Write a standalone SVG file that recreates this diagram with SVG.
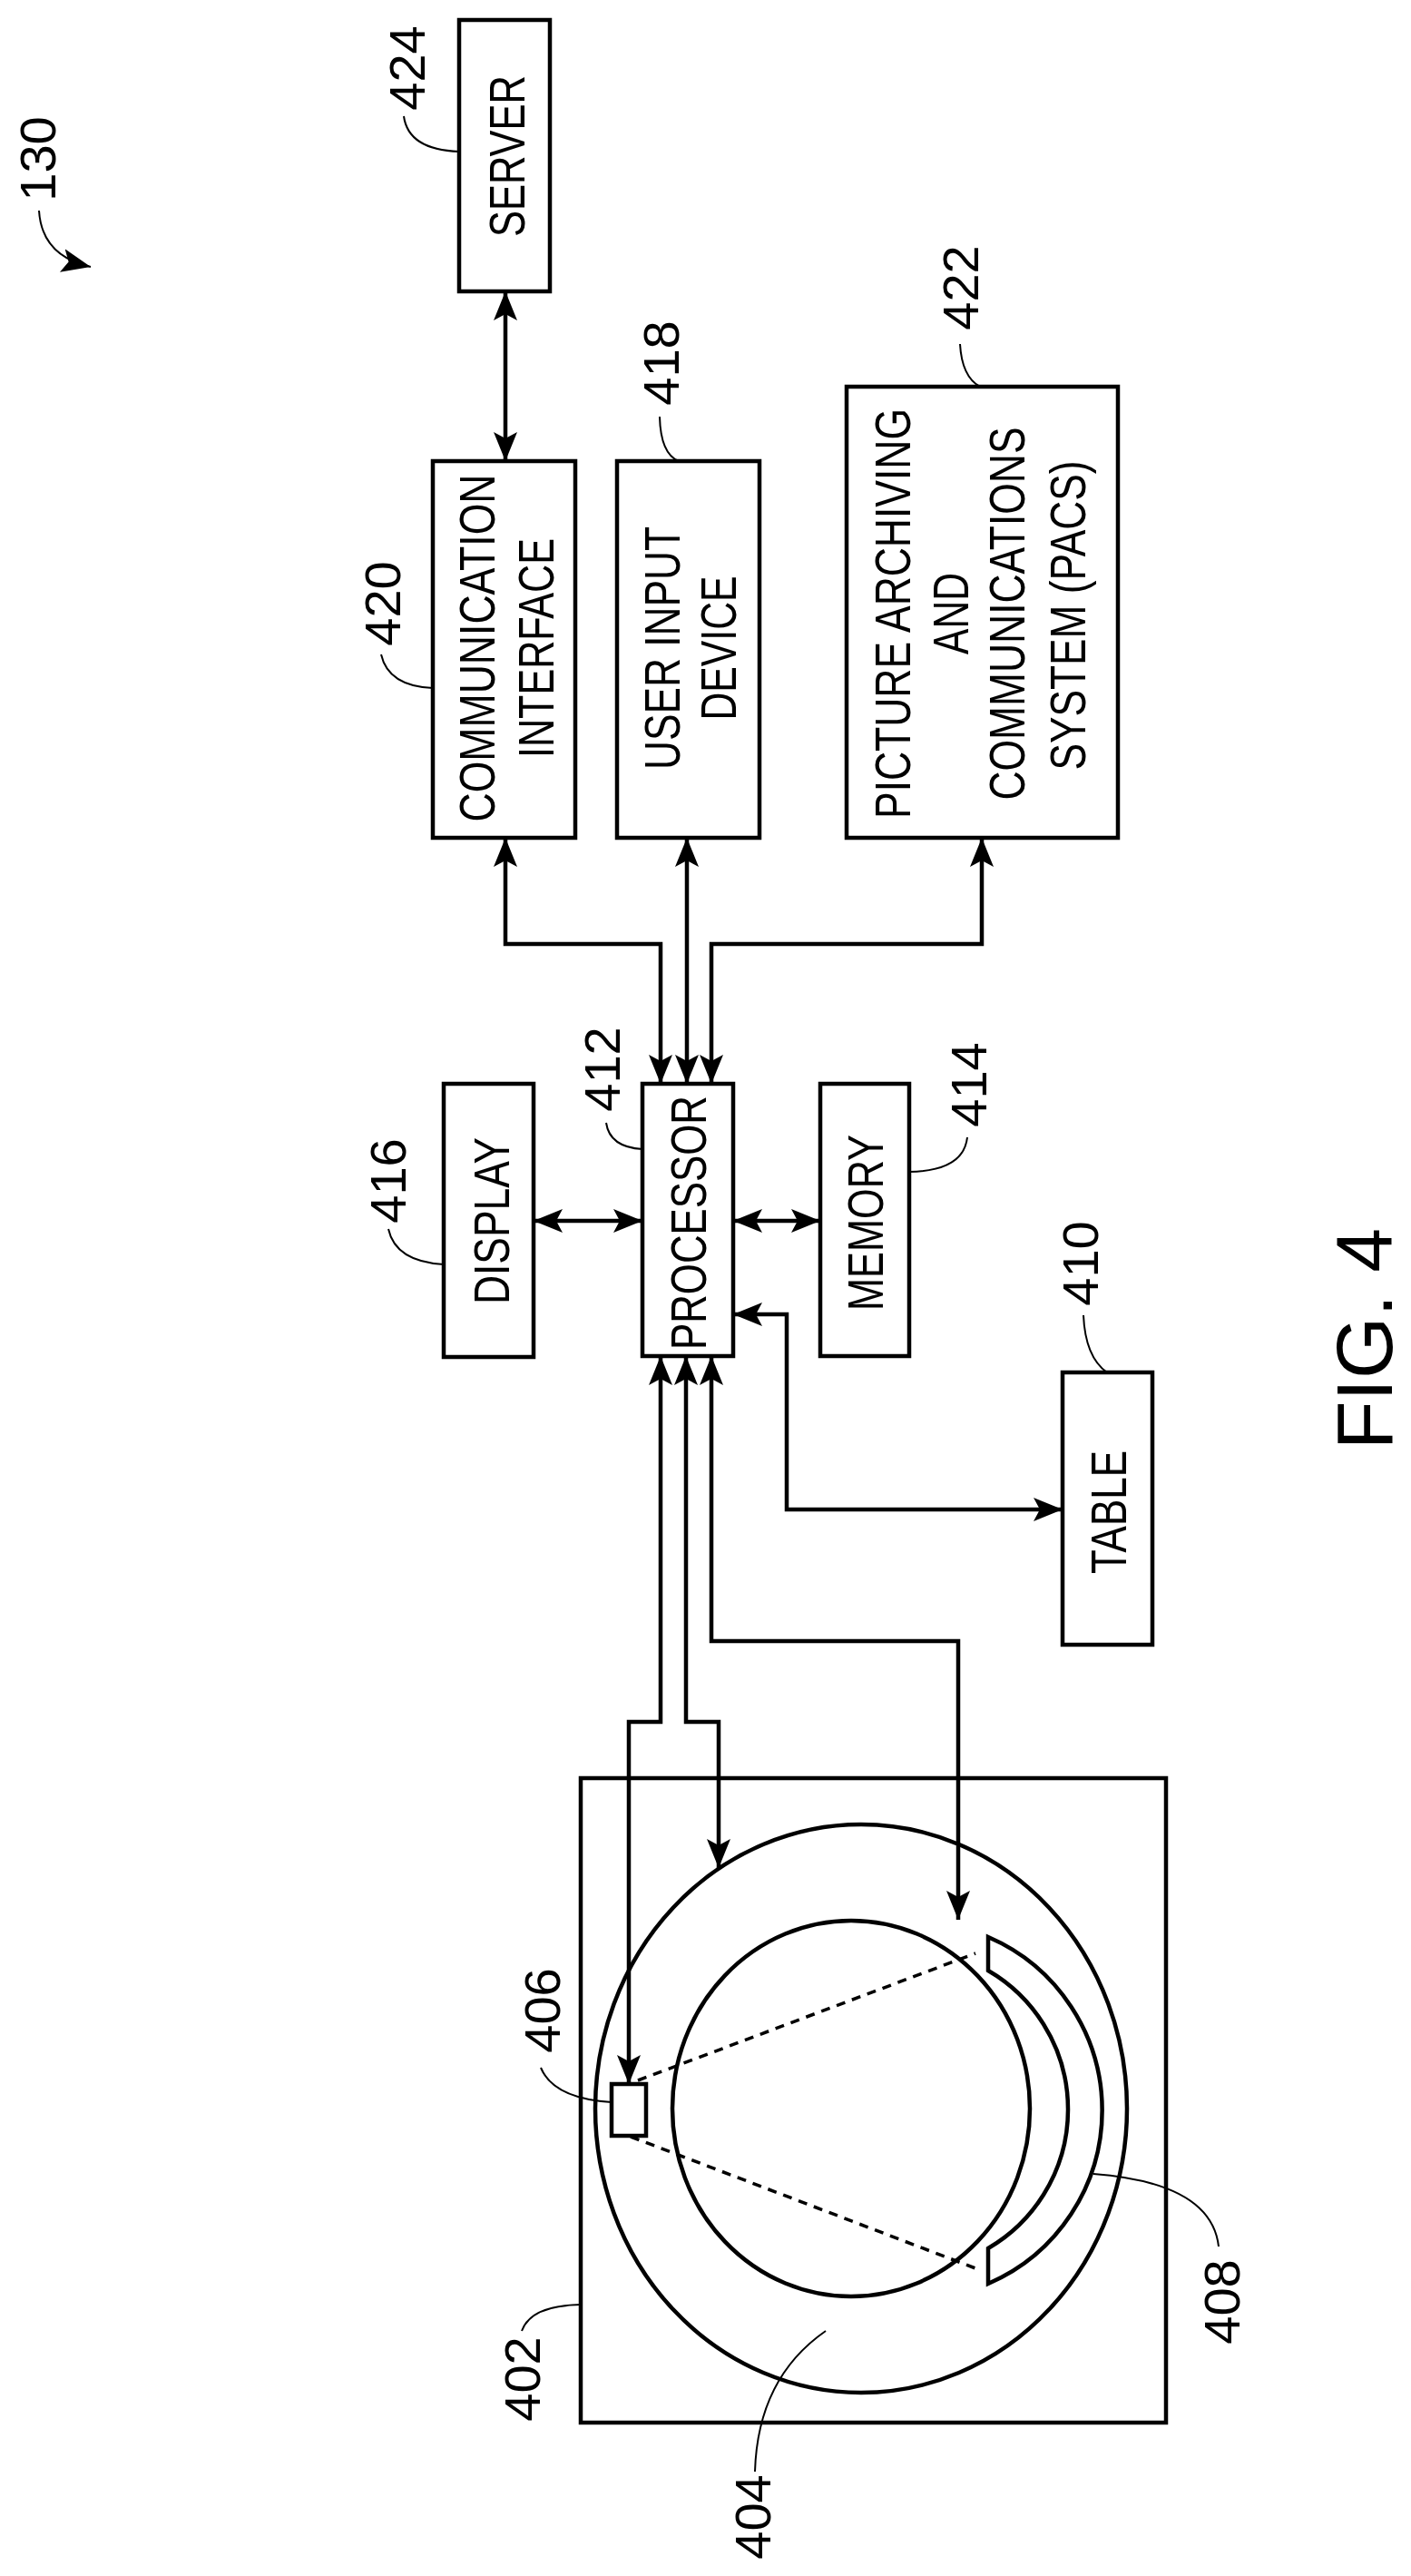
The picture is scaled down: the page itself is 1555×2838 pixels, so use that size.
<svg xmlns="http://www.w3.org/2000/svg" width="1555" height="2838" viewBox="0 0 1555 2838">
<style>
.box{fill:none;stroke:#000;stroke-width:4.5}
.t{font-family:"Liberation Sans",Arial,sans-serif;font-size:56px;fill:#000;text-anchor:middle;dominant-baseline:central}
.n{font-family:"Liberation Sans",Arial,sans-serif;font-size:56px;fill:#000;text-anchor:middle;dominant-baseline:central}
.ld{fill:none;stroke:#000;stroke-width:2}
.c{fill:none;stroke:#000;stroke-width:4.5;marker-start:url(#a);marker-end:url(#a)}
.dash{fill:none;stroke:#000;stroke-width:3.5;stroke-dasharray:10 8}
</style>
<defs>
<marker id="a" markerUnits="userSpaceOnUse" markerWidth="36" markerHeight="36" viewBox="0 0 36 36" refX="32" refY="18" orient="auto-start-reverse">
<path d="M0,5 L32,18 L0,31 L7,18 Z" fill="#000"/>
</marker>
<marker id="s" markerUnits="userSpaceOnUse" markerWidth="36" markerHeight="36" viewBox="0 0 36 36" refX="32" refY="18" orient="auto">
<path d="M0,5 L32,18 L0,31 L7,18 Z" fill="#000"/>
</marker>
</defs>

<g id="ref130">
<text class="n" transform="translate(41,175) rotate(-90)">130</text>
<path class="ld" d="M43,232 Q46,282 100,294" marker-end="url(#s)"/>
</g>

<g id="server">
<rect class="box" x="506" y="22" width="100" height="299"/>
<text class="t" transform="translate(558,172) rotate(-90)" textLength="178" lengthAdjust="spacingAndGlyphs">SERVER</text>
<text class="n" transform="translate(448,75) rotate(-90)">424</text>
<path class="ld" d="M445,128 Q450,165 506,167"/>
</g>

<g id="comm">
<rect class="box" x="477" y="508" width="157" height="415"/>
<text class="t" transform="translate(525,714) rotate(-90)" textLength="383" lengthAdjust="spacingAndGlyphs">COMMUNICATION</text>
<text class="t" transform="translate(590,714) rotate(-90)" textLength="242" lengthAdjust="spacingAndGlyphs">INTERFACE</text>
<text class="n" transform="translate(421,665) rotate(-90)">420</text>
<path class="ld" d="M420,721 Q428,756 477,758"/>
</g>

<g id="uid">
<rect class="box" x="680" y="508" width="157" height="415"/>
<text class="t" transform="translate(729,714) rotate(-90)" textLength="268" lengthAdjust="spacingAndGlyphs">USER INPUT</text>
<text class="t" transform="translate(791,714) rotate(-90)" textLength="159" lengthAdjust="spacingAndGlyphs">DEVICE</text>
<text class="n" transform="translate(728,400) rotate(-90)">418</text>
<path class="ld" d="M727,459 Q728,500 748,508"/>
</g>

<g id="pacs">
<rect class="box" x="933" y="426" width="299" height="497"/>
<text class="t" transform="translate(983,676) rotate(-90)" textLength="452" lengthAdjust="spacingAndGlyphs">PICTURE ARCHIVING</text>
<text class="t" transform="translate(1047,676) rotate(-90)" textLength="90" lengthAdjust="spacingAndGlyphs">AND</text>
<text class="t" transform="translate(1109,676) rotate(-90)" textLength="411" lengthAdjust="spacingAndGlyphs">COMMUNICATIONS</text>
<text class="t" transform="translate(1176,678) rotate(-90)" textLength="341" lengthAdjust="spacingAndGlyphs">SYSTEM (PACS)</text>
<text class="n" transform="translate(1058,317) rotate(-90)">422</text>
<path class="ld" d="M1058,379 Q1060,415 1080,426"/>
</g>

<g id="display">
<rect class="box" x="489" y="1194" width="99" height="301"/>
<text class="t" transform="translate(541,1345) rotate(-90)" textLength="184" lengthAdjust="spacingAndGlyphs">DISPLAY</text>
<text class="n" transform="translate(427,1301) rotate(-90)">416</text>
<path class="ld" d="M428,1354 Q436,1390 489,1393"/>
</g>

<g id="processor">
<rect class="box" x="708" y="1194" width="100" height="300"/>
<text class="t" transform="translate(758,1347) rotate(-90)" textLength="280" lengthAdjust="spacingAndGlyphs">PROCESSOR</text>
<text class="n" transform="translate(663,1178) rotate(-90)">412</text>
<path class="ld" d="M668,1237 Q672,1264 708,1266"/>
</g>

<g id="memory">
<rect class="box" x="904" y="1194" width="98" height="300"/>
<text class="t" transform="translate(953,1347) rotate(-90)" textLength="194" lengthAdjust="spacingAndGlyphs">MEMORY</text>
<text class="n" transform="translate(1067,1195) rotate(-90)">414</text>
<path class="ld" d="M1066,1253 Q1062,1290 1002,1291"/>
</g>

<g id="table">
<rect class="box" x="1171" y="1512" width="99" height="300"/>
<text class="t" transform="translate(1221,1666) rotate(-90)" textLength="136" lengthAdjust="spacingAndGlyphs">TABLE</text>
<text class="n" transform="translate(1190,1392) rotate(-90)">410</text>
<path class="ld" d="M1194,1449 Q1196,1495 1220,1512"/>
</g>

<g id="scanner">
<rect class="box" x="640" y="1959" width="645" height="710"/>
<text class="n" transform="translate(575,2621) rotate(-90)">402</text>
<path class="ld" d="M575,2568 Q585,2540 640,2539"/>
</g>

<g id="gantry">
<ellipse class="box" cx="949" cy="2323" rx="293" ry="313"/>
<ellipse class="box" cx="938" cy="2323" rx="197" ry="207"/>
<text class="n" transform="translate(829,2773) rotate(-90)">404</text>
<path class="ld" d="M832,2723 Q835,2620 910,2568"/>
</g>

<g id="source">
<rect class="box" x="674" y="2296" width="38" height="57" fill="#fff"/>
<path class="dash" d="M703,2292 L1075,2152"/>
<path class="dash" d="M695,2354 L1075,2499"/>
<text class="n" transform="translate(597,2215) rotate(-90)">406</text>
<path class="ld" d="M596,2278 Q610,2312 674,2316"/>
</g>

<g id="detector">
<path class="box" d="M1089,2134 A208,208 0 0 1 1089,2516 L1089,2477 A177,177 0 0 0 1089,2171 Z"/>
<text class="n" transform="translate(1346,2536) rotate(-90)">408</text>
<path class="ld" d="M1343,2475 Q1335,2405 1205,2395"/>
</g>

<g id="connectors">
<path class="c" d="M557,321 V508"/>
<path class="c" d="M557,923 V1040 H728 V1194"/>
<path class="c" d="M757,923 V1194"/>
<path class="c" d="M1082,923 V1040 H784 V1194"/>
<path class="c" d="M588,1345 H708"/>
<path class="c" d="M808,1345 H904"/>
<path class="c" d="M808,1448 H867 V1663 H1171"/>
<path class="c" d="M728,1494 V1897 H693 V2296"/>
<path class="c" d="M756,1494 V1897 H792 V2058"/>
<path class="c" d="M784,1494 V1808 H1056 V2115"/>
</g>

<g id="fig">
<text transform="translate(1503,1475) rotate(-90)" font-family="Liberation Sans, Arial, sans-serif" font-size="88" text-anchor="middle" dominant-baseline="central">FIG. 4</text>
</g>
</svg>
